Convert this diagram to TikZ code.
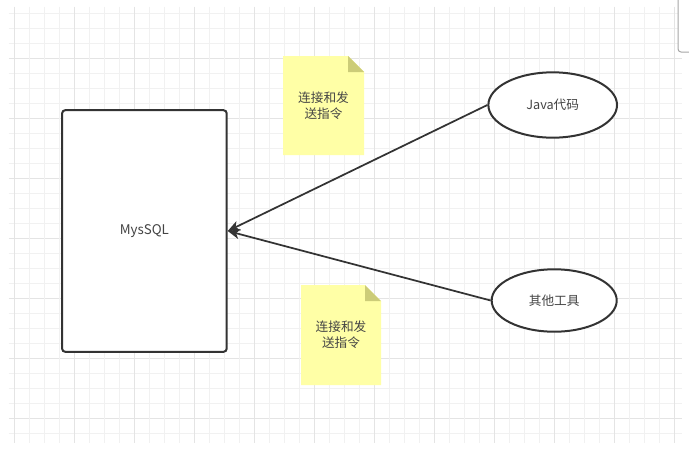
\documentclass[tikz,border=0pt]{standalone}
\usepackage{fontspec}
\setmainfont{Noto Sans CJK SC}
\usetikzlibrary{arrows.meta,shapes.geometric}
\definecolor{ink}{HTML}{333333}
\definecolor{txt}{HTML}{444444}
\definecolor{gridminor}{HTML}{F1F1F1}
\definecolor{gridmajor}{HTML}{E4E4E4}
\definecolor{notefill}{HTML}{FFFFA6}
\definecolor{notefold}{HTML}{CCCC78}
\tikzset{
  px/.style={x=0.75pt,y=-0.75pt},
  box/.style={draw=ink, line width=1.5pt, fill=white, rounded corners=2.5pt, text=txt,
    font=\fontsize{10}{12}\selectfont, inner sep=0pt},
  oval/.style={ellipse, draw=ink, line width=1.5pt, fill=white, text=txt,
    font=\fontsize{9.5}{11}\selectfont, inner sep=0pt},
  notetext/.style={text=txt, align=center, font=\fontsize{9.5}{11.8}\selectfont, inner sep=0pt},
  arr/.style={draw=ink, line width=1.3pt, -{Stealth[length=9pt,width=7.5pt,inset=2.5pt]}},
  gminor/.style={draw=gridminor, line width=0.75pt},
  gmajor/.style={draw=gridmajor, line width=0.75pt}
}
\begin{document}
\begin{tikzpicture}[px]
\useasboundingbox[fill=white] (0,0) rectangle (689,461);
% grid
\foreach \k in {0,...,28}{
  \pgfmathtruncatemacro{\m}{mod(\k+1,4)}
  \ifnum\m=0
    \draw[gmajor] (8.8,{13.3+15*\k}) -- (682,{13.3+15*\k});
  \else
    \draw[gminor] (8.8,{13.3+15*\k}) -- (682,{13.3+15*\k});
  \fi
}
\foreach \k in {0,...,44}{
  \pgfmathtruncatemacro{\m}{mod(\k,4)}
  \ifnum\m=0
    \draw[gmajor] ({14.6+15*\k},6.7) -- ({14.6+15*\k},442.7);
  \else
    \draw[gminor] ({14.6+15*\k},6.7) -- ({14.6+15*\k},442.7);
  \fi
}
% scrollbar edge top right
\fill[white] (678,0) rectangle (689,52);
\draw[draw=gray!70, line width=0.75pt] (678,0) -- (678,49) arc[start angle=180,end angle=270,x radius=3,y radius=-3] -- (689,52);

% MySQL box
\node[box, minimum width=123.5pt, minimum height=181.3pt] (mysql) at (144.4,231) {MysSQL};

% ellipses
\node[oval, minimum width=96.5pt, minimum height=49pt] (java) at (552.7,105) {Java代码};
\node[oval, minimum width=93.8pt, minimum height=46.8pt] (tool) at (554.2,300.5) {其他工具};

% sticky notes
\fill[notefill] (283,56) -- (348,56) -- (364,72) -- (364,155) -- (283,155) -- cycle;
\fill[notefold] (348,56) -- (364,72) -- (348,72) -- cycle;
\node[notetext] (note1) at (323.5,106) {连接和发\\送指令};

\fill[notefill] (301,285) -- (365,285) -- (381,301) -- (381,385) -- (301,385) -- cycle;
\fill[notefold] (365,285) -- (381,301) -- (365,301) -- cycle;
\node[notetext] (note2) at (341,335) {连接和发\\送指令};

% arrows
\draw[arr] (java.west) -- (mysql.east);
\draw[arr] (tool.west) -- (mysql.east);
\end{tikzpicture}
\end{document}
